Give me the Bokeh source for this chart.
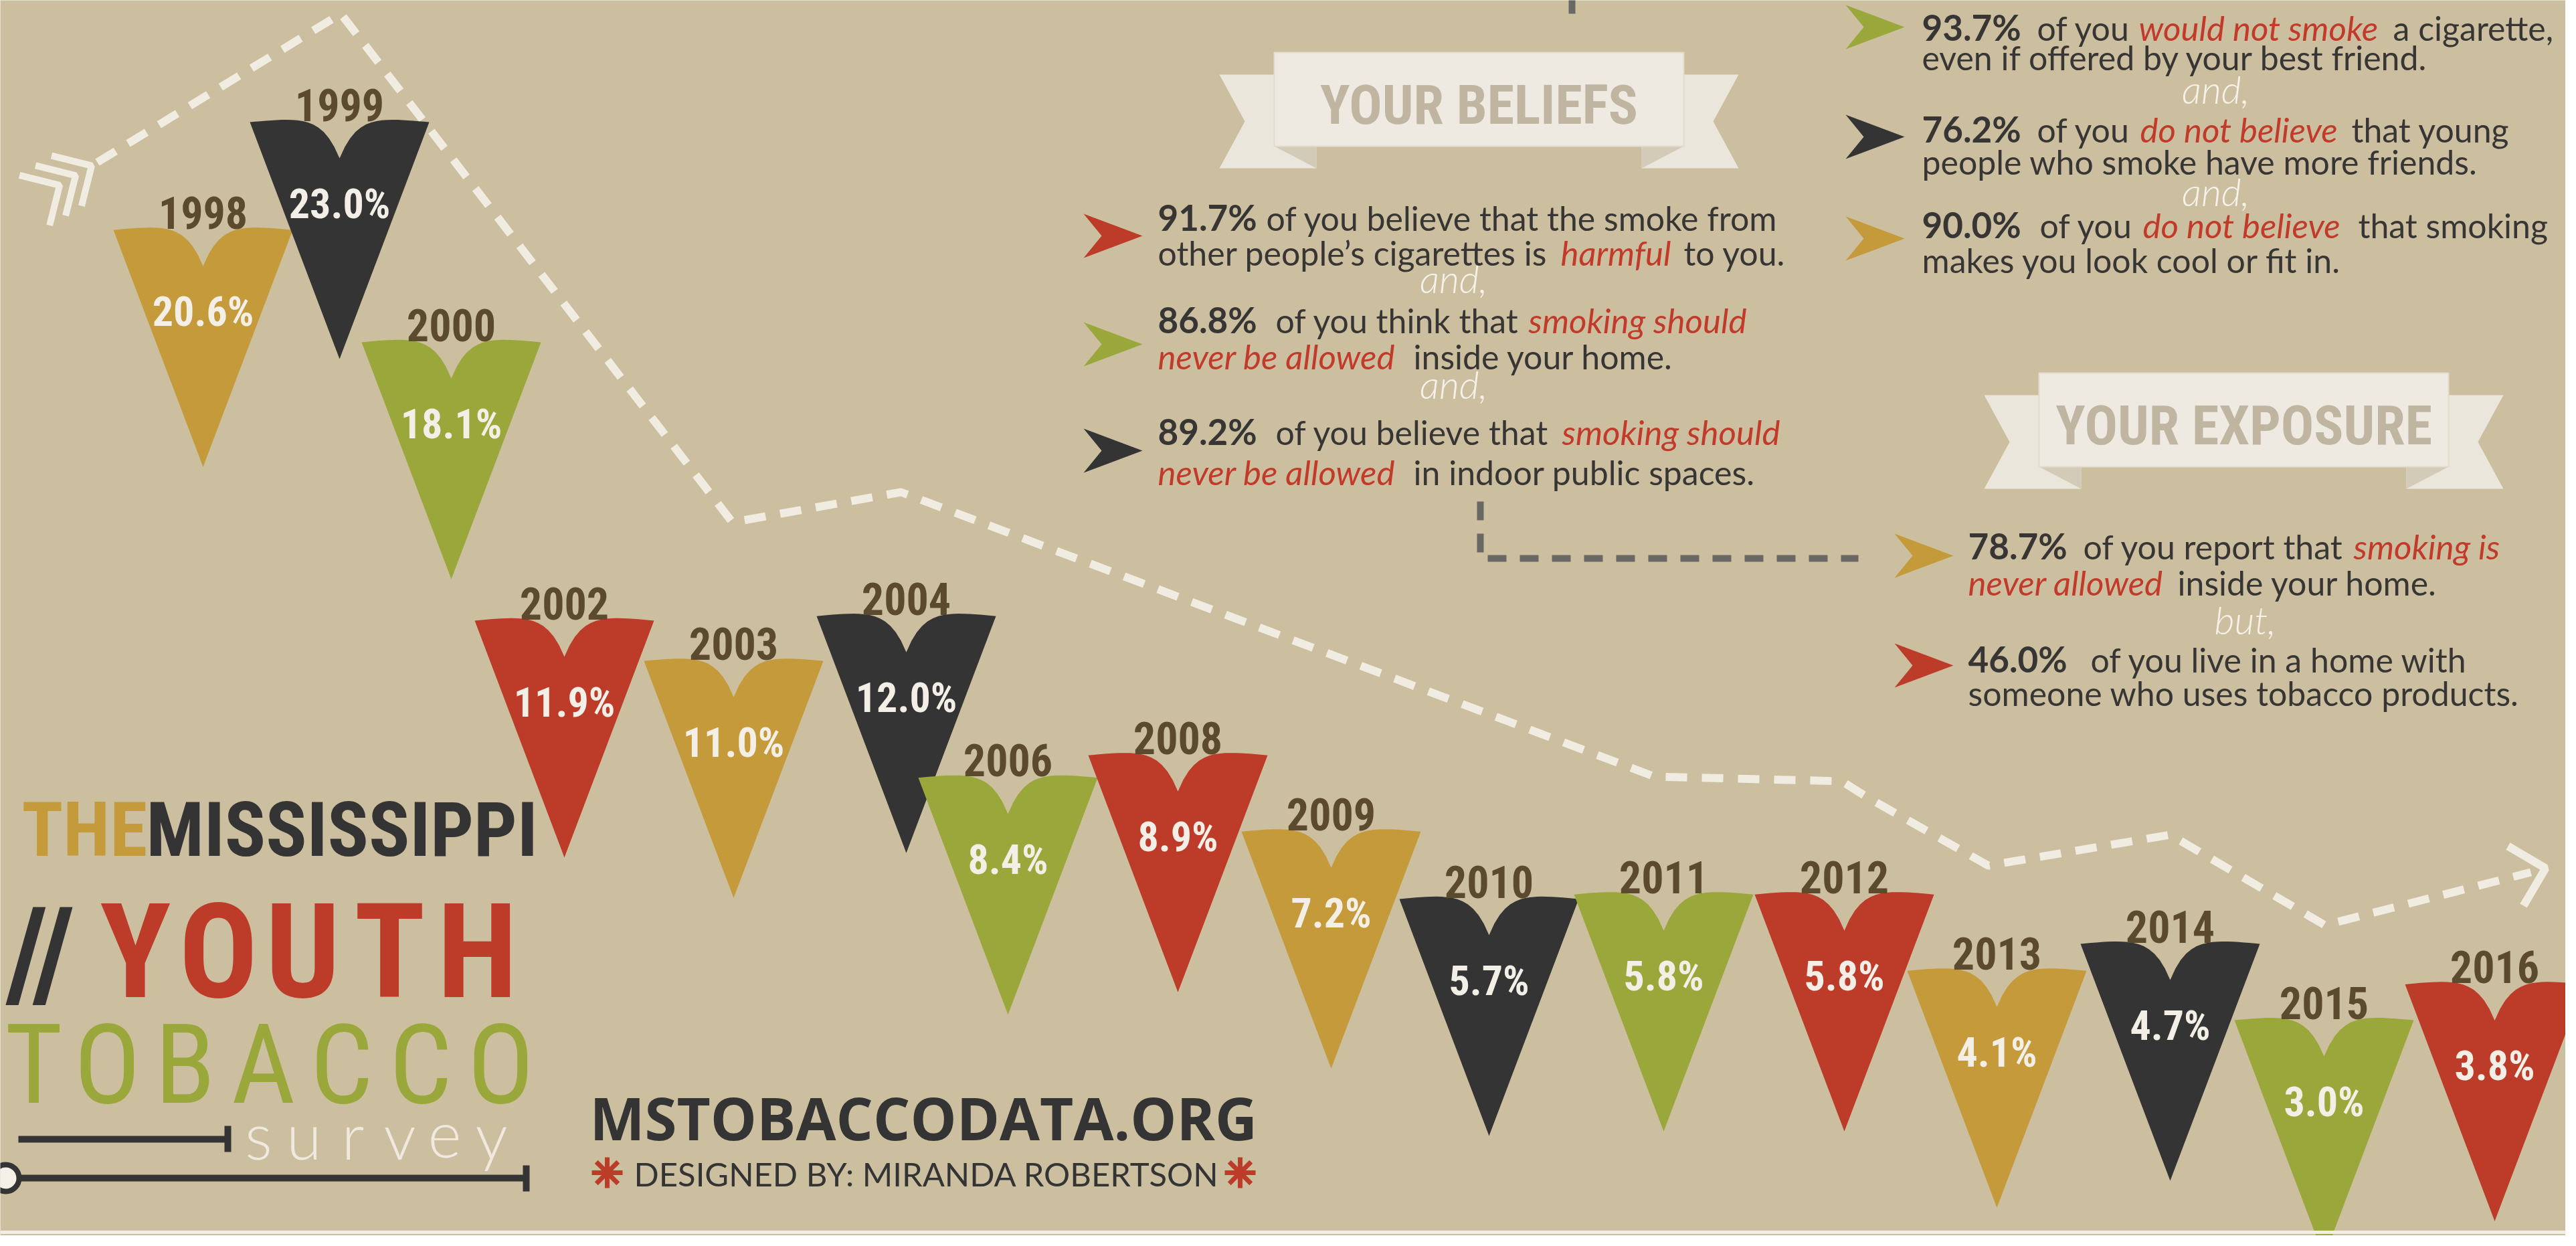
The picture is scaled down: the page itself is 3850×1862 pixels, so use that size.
import numpy as np
from bokeh.plotting import figure
from bokeh.models import Range1d, ColumnDataSource
from bokeh.embed import file_html
from bokeh.resources import INLINE
from bokeh.core.properties import value

# ---------------- data ----------------
years = ["1998", "1999", "2000", "2002", "2003", "2004", "2006", "2008",
         "2009", "2010", "2011", "2012", "2013", "2014", "2015", "2016"]
rates = [20.6, 23.0, 18.1, 11.9, 11.0, 12.0, 8.4, 8.9,
         7.2, 5.7, 5.8, 5.8, 4.1, 4.7, 3.0, 3.8]
belief_pct = [91.7, 86.8, 89.2]
peer_pct = [93.7, 76.2, 90.0]
exposure_pct = [78.7, 46.0]

# ---------------- layout / style ----------------
slot_x = [311, 515, 682, 851, 1104, 1362, 1514, 1768,
          1997, 2233, 2494, 2764, 2992, 3251, 3481, 3736]
GOLD, DARK, GREEN, RED = "#c49a3b", "#343434", "#9aa83b", "#bd3b29"
cycle = [GOLD, DARK, GREEN, RED]
colors = [cycle[i % 4] for i in range(len(years))]
BG = "#ccbf9f"
CREAM = "#f1ece2"
BROWN = "#5c4a2e"
TXT = "#383634"
COND = value("Roboto Condensed, Roboto")
SANS = value("Lato")
LIGHT = value("Lato Light, Lato")
AB = 0.3  # renderer puts alphabetic baseline this many em below the anchor


def ab(y, fs):
    """anchor y that puts the visible baseline at y"""
    return y - AB * fs


W, H = 3834, 1846
p = figure(width=W, height=H, x_range=Range1d(8, 8 + W), y_range=Range1d(8 + H, 8),
           output_backend="svg", toolbar_location=None, min_border=0,
           x_axis_type=None, y_axis_type=None)
p.grid.visible = False
p.outline_line_color = None
p.background_fill_color = BG
p.border_fill_color = BG

# value scale for the pennants (px per percentage point, px of 0 %)
K, Y0 = 67.1, 1733.4
p.extra_y_ranges = {"pct": Range1d(start=(Y0 - (8 + H)) / K, end=(Y0 - 8) / K)}


def fmt(v):
    return f"{v:.1f}%"


# ---------------- trend dashed line ----------------
trend_x = [153, 517, 1102, 1354, 2480, 2760, 2800, 2979, 3251, 3482, 3790]
trend_y = [250, 28, 788, 743, 1168, 1175, 1200, 1301, 1255, 1390, 1311]
p.line(trend_x, trend_y, line_color=CREAM, line_width=12, line_dash="32 22")
p.line([3756, 3812, 3779], [1272, 1305, 1361], line_color=CREAM, line_width=12)
fx, fy = [], []
for k in range(3):
    vx, vy = 153 - 0.854 * (10 + 28 * k), 250 + 0.521 * (10 + 28 * k)
    fx.append([vx - 60, vx, vx - 15])
    fy.append([vy - 15, vy, vy + 60])
p.multi_line(fx, fy, line_color=CREAM, line_width=10)

# ---------------- pennants ----------------
t = np.linspace(0, 1, 18)
lx = -134 + 134 * t
ly = 54 * t ** 6 - 4 * np.sin(np.pi * t)
shape_dx = list(lx) + list(-lx[::-1]) + [0]
shape_dy = list(ly) + list(ly[::-1]) + [354]
pxs, pys = [], []
for xc, r in zip(slot_x, rates):
    pxs.append([xc + d for d in shape_dx])
    pys.append([r - d / K for d in shape_dy])
src = ColumnDataSource(dict(xs=pxs, ys=pys, c=colors))
p.patches("xs", "ys", source=src, fill_color="c", line_color=None, y_range_name="pct")

YFS, PFS = 66, 62
lab = ColumnDataSource(dict(x=slot_x, y=rates, year=years, pct=[fmt(v) for v in rates]))
p.text(x="x", y="y", text="year", source=lab, y_range_name="pct", y_offset=-6 - AB * YFS,
       text_align="center", text_baseline="alphabetic", text_font=COND,
       text_font_style="bold", text_font_size=f"{YFS}px", text_color=BROWN)
p.text(x="x", y="y", text="pct", source=lab, y_range_name="pct", y_offset=122,
       text_align="center", text_baseline="middle", text_font=COND,
       text_font_style="bold", text_font_size=f"{PFS}px", text_color="#f3efe6")


# ---------------- banners ----------------
def banner(left, top, label):
    w = 612
    tails_x = [[left - 82, left + 63, left + 63, left - 82, left - 44],
               [left + w + 82, left + w - 63, left + w - 63, left + w + 82, left + w + 44]]
    tails_y = [[top + 33, top + 33, top + 173, top + 173, top + 103]] * 2
    p.patches(tails_x, tails_y, fill_color="#ebe6db", line_color=None)
    p.patches([[left, left + 63, left + 63], [left + w, left + w - 63, left + w - 63]],
              [[top + 140, top + 140, top + 173]] * 2, fill_color="#d3cab8", line_color=None)
    p.quad(left=[left], right=[left + w], top=[top], bottom=[top + 140],
           fill_color="#eeeae1", line_color="#e2dccf", line_width=2)
    p.text(x=[left + w / 2], y=[ab(top + 103, 82)], text=[label], text_align="center",
           text_baseline="alphabetic", text_font=COND, text_font_style="bold",
           text_font_size="82px", text_color="#bfb5a1")


banner(1912, 86, "YOUR BELIEFS")
banner(3055, 565, "YOUR EXPOSURE")

# ---------------- connectors ----------------
GREY = "#6a6865"
p.line([2357, 2357], [0, 48], line_color=GREY, line_width=10, line_dash="28 20")
p.line([2220, 2220, 2785], [757, 842, 842], line_color=GREY, line_width=10, line_dash="28 20")


# ---------------- statement arrows ----------------
def arrows(x0, ycs, cols):
    xs = [[x0, x0 + 88, x0, x0 + 27] for _ in ycs]
    ys = [[yc - 33, yc, yc + 33, yc] for yc in ycs]
    p.patches(xs, ys, fill_color=cols, line_color=None)


arrows(1627, [360, 522, 681], [RED, GREEN, DARK])
arrows(2766, [48, 212, 364], [GREEN, DARK, GOLD])
arrows(2839, [838, 1002], [GOLD, RED])

# ---------------- statement texts (x, visible baseline, text, style) ----------------
runs = [
    (1738, 348, fmt(belief_pct[0]), "num"),
    (1900, 348, "of you believe that the smoke from", "body"),
    (1738, 400, "other people\u2019s cigarettes is", "body"),
    (2340, 400, "harmful", "em"),
    (2524, 400, "to you.", "body"),
    (2180, 440, "and,", "conj"),
    (1738, 501, fmt(belief_pct[1]), "num"),
    (1914, 501, "of you think that", "body"),
    (2292, 501, "smoking should", "em"),
    (1738, 555, "never be allowed", "em"),
    (2120, 555, "inside your home.", "body"),
    (2180, 598, "and,", "conj"),
    (1738, 668, fmt(belief_pct[2]), "num"),
    (1914, 668, "of you believe that", "body"),
    (2342, 668, "smoking should", "em"),
    (1738, 728, "never be allowed", "em"),
    (2120, 728, "in indoor public spaces.", "body"),

    (2880, 64, fmt(peer_pct[0]), "num"),
    (3052, 64, "of you", "body"),
    (3204, 64, "would not smoke", "em"),
    (3584, 64, "a cigarette,", "body"),
    (2880, 108, "even if offered by your best friend.", "body"),
    (3319, 157, "and,", "conj"),
    (2880, 216, fmt(peer_pct[1]), "num"),
    (3052, 216, "of you", "body"),
    (3206, 216, "do not believe", "em"),
    (3522, 216, "that young", "body"),
    (2880, 264, "people who smoke have more friends.", "body"),
    (3319, 310, "and,", "conj"),
    (2880, 359, fmt(peer_pct[2]), "num"),
    (3056, 359, "of you", "body"),
    (3210, 359, "do not believe", "em"),
    (3532, 359, "that smoking", "body"),
    (2880, 411, "makes you look cool or fit in.", "body"),

    (2949, 839, fmt(exposure_pct[0]), "num"),
    (3121, 839, "of you report that", "body"),
    (3525, 839, "smoking is", "em"),
    (2949, 893, "never allowed", "em"),
    (3262, 893, "inside your home.", "body"),
    (3363, 950, "but,", "conj"),
    (2949, 1008, fmt(exposure_pct[1]), "num"),
    (3132, 1008, "of you live in a home with", "body"),
    (2949, 1058, "someone who uses tobacco products.", "body"),
]
styles = {
    "num": (53, dict(text_font=SANS, text_font_style="bold", text_color=TXT, text_align="left")),
    "body": (50, dict(text_font=SANS, text_font_style="normal", text_color=TXT, text_align="left")),
    "em": (51, dict(text_font=SANS, text_font_style="italic", text_color="#c13a2a", text_align="left")),
    "conj": (58, dict(text_font=LIGHT, text_font_style="italic", text_color="#f6f2ea",
                      text_align="center")),
}
for key, (fs, st) in styles.items():
    sel = [r for r in runs if r[3] == key]
    s = ColumnDataSource(dict(x=[r[0] for r in sel], y=[ab(r[1], fs) for r in sel],
                              t=[r[2] for r in sel]))
    p.text(x="x", y="y", text="t", source=s, text_baseline="alphabetic",
           text_font_size=f"{fs}px", **st)

# ---------------- title block ----------------
TFS = 114
p.text(x=[40], y=[ab(1282, TFS)], text=["THE"], text_font=COND, text_font_style="bold",
       text_font_size=f"{TFS}px", text_color=GOLD, text_baseline="alphabetic")
p.text(x=[226], y=[ab(1282, TFS)], text=["MISSISSIPPI"], text_font=COND, text_font_style="bold",
       text_font_size=f"{TFS}px", text_color=DARK, text_baseline="alphabetic")
p.text(x=[16], y=[ab(1489, 190)], text=["//"], text_font=COND, text_font_style="bold",
       text_font_size="190px", text_color=DARK, text_baseline="alphabetic")
p.text(x=[210, 334, 460, 590, 721], y=[ab(1489, 196)] * 5, text=list("YOUTH"), text_font=COND,
       text_font_style="bold", text_font_size="196px", text_color=RED,
       text_align="center", text_baseline="alphabetic")
p.text(x=[58, 168, 284, 401, 518, 636, 756], y=[ab(1649, 166)] * 7, text=list("TOBACCO"),
       text_font=COND, text_font_size="166px", text_color=GREEN,
       text_align="center", text_baseline="alphabetic")
p.text(x=[394, 462, 535, 605, 672, 742], y=[ab(1732, 96)] * 6, text=list("survey"),
       text_font=LIGHT, text_font_size="96px", text_color="#efe9df",
       text_align="center", text_baseline="alphabetic")
p.segment(x0=[35, 348, 16, 794], y0=[1710, 1690, 1768, 1749],
          x1=[348, 348, 794, 794], y1=[1710, 1729, 1768, 1788],
          line_color=DARK, line_width=10)
p.scatter(x=[16], y=[1768], marker="circle", size=40, fill_color="#f4f0e8",
          line_color=DARK, line_width=8)

# ---------------- credits ----------------
p.text(x=[889], y=[ab(1704, 87)], text=["MSTOBACCODATA.ORG"], text_font=value("Open Sans"),
       text_font_style="bold", text_font_size="87px", text_color=DARK,
       text_baseline="alphabetic")
p.text(x=[955], y=[ab(1776, 49)], text=["DESIGNED BY: MIRANDA ROBERTSON"], text_font=SANS,
       text_font_size="49px", text_color=DARK, text_baseline="alphabetic")
p.scatter(x=[915, 1861], y=[1760, 1760], marker="asterisk", size=46,
          line_color=RED, line_width=7)

# bottom rule
p.segment(x0=[0], y0=[1849], x1=[3850], y1=[1849], line_color="#f1ece4", line_width=5)

open("out.html", "w").write(file_html(p, INLINE))
